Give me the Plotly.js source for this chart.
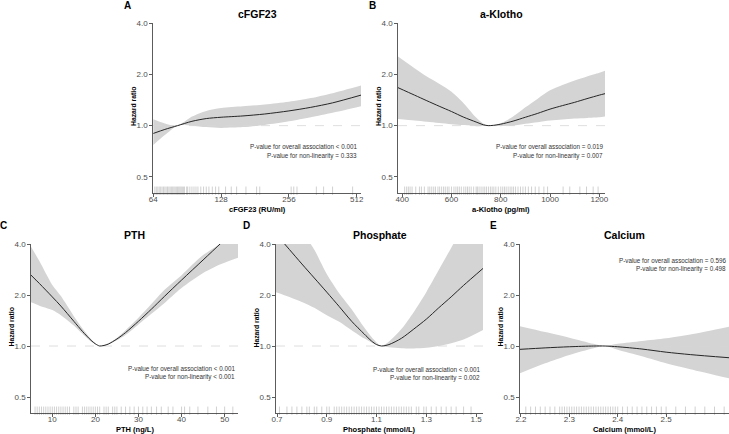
<!DOCTYPE html>
<html>
<head>
<meta charset="utf-8">
<script src="https://cdn.plot.ly/plotly-3.0.1.min.js"></script>
<style>
  body { margin: 0; background: #fff; }
  #chart { width: 729px; height: 434px; }
</style>
</head>
<body>
<div id="chart"></div>
<script>
// spline estimates: x, hazard ratio, 95% CI
const fgfX  = [64, 72, 82, 95, 110, 128, 160, 200, 256, 320, 400, 535];
const fgfHR = [0.90, 0.95, 1.00, 1.06, 1.10, 1.12, 1.14, 1.17, 1.22, 1.28, 1.36, 1.51];
const fgfLo = [0.77, 0.88, 1.00, 1.00, 0.98, 0.97, 0.98, 1.01, 1.06, 1.12, 1.19, 1.30];
const fgfHi = [1.09, 1.03, 1.00, 1.13, 1.22, 1.27, 1.30, 1.33, 1.38, 1.45, 1.55, 1.72];
const fgfRug = [65, 66, 67, 68, 69, 70, 71, 72, 73, 74, 75, 76, 77, 78, 79, 80, 81, 82, 83, 84,
  85, 86, 87, 88, 90, 91, 93, 95, 97, 99, 101, 104, 107, 110, 113, 117, 121, 125, 134, 142,
  150, 165, 184, 190, 262, 269, 278, 339, 365, 400, 491];

const klothoX  = [383, 450, 500, 550, 600, 650, 700, 730, 749, 770, 800, 850, 900, 950, 1000, 1050, 1100, 1150, 1200, 1223];
const klothoHR = [1.67, 1.51, 1.40, 1.30, 1.21, 1.12, 1.05, 1.011, 1.00, 1.004, 1.02, 1.063, 1.12, 1.18, 1.25, 1.31, 1.37, 1.44, 1.51, 1.54];
const klothoLo = [1.092, 1.07, 1.053, 1.036, 1.02, 1.007, 0.993, 0.996, 1.00, 0.997, 0.993, 1.00, 1.027, 1.048, 1.07, 1.085, 1.10, 1.11, 1.12, 1.13];
const klothoHi = [2.54, 2.17, 1.94, 1.76, 1.58, 1.35, 1.115, 1.027, 1.00, 1.007, 1.034, 1.13, 1.28, 1.44, 1.61, 1.73, 1.84, 1.94, 2.04, 2.10];
const klothoRug = [410, 418, 425, 432, 440, 455, 470, 478, 490, 505, 512, 520, 528, 535, 545, 552,
  560, 568, 575, 583, 590, 600, 610, 618, 625, 632, 640, 650, 658, 665, 672, 680, 690, 700, 705,
  712, 720, 728, 735, 742, 750, 758, 765, 772, 780, 790, 800, 808, 815, 822, 830, 838, 845, 852,
  860, 870, 880, 890, 900, 912, 925, 940, 955, 975, 990, 1053, 1080, 1121, 1148, 1175, 1195];

const pthX  = [5.06, 7, 10, 12, 15, 17, 19, 20, 21, 22, 23, 25, 27, 30, 33, 36, 40, 45, 49.2, 53.1];
const pthHR = [2.62, 2.34, 1.95, 1.72, 1.40, 1.22, 1.08, 1.03, 1.00, 1.008, 1.027, 1.10, 1.20, 1.40, 1.65, 1.96, 2.45, 3.22, 4.06, 5.04];
const pthLo = [1.81, 1.73, 1.63, 1.52, 1.32, 1.18, 1.063, 1.025, 1.00, 1.005, 1.02, 1.08, 1.16, 1.34, 1.55, 1.79, 2.20, 2.70, 3.05, 3.32];
const pthHi = [3.85, 3.17, 2.29, 1.97, 1.50, 1.27, 1.10, 1.037, 1.00, 1.011, 1.035, 1.12, 1.24, 1.47, 1.77, 2.14, 2.62, 3.44, 4.06, 5.25];
const pthRug = [6, 6.5, 7, 7.5, 8, 8.5, 9, 9.5, 10, 10.5, 11, 11.5, 12, 12.5, 13, 13.5, 14, 15, 15.5,
  16, 17, 17.5, 18, 18.5, 19, 19.5, 20, 20.5, 21, 22, 22.5, 23, 24, 24.5, 25, 26, 27, 28, 29, 30,
  31, 32, 33, 34.2, 35.3, 36.9, 38.0, 40.0, 40.7, 41.9, 43.8, 46.1, 48.1, 50.0, 51.9];

const phosX  = [0.696, 0.75, 0.8, 0.85, 0.9, 0.95, 1.0, 1.05, 1.08, 1.1, 1.12, 1.15, 1.2, 1.25, 1.3, 1.35, 1.4, 1.45, 1.528];
const phosHR = [4.58, 3.71, 3.05, 2.52, 2.08, 1.71, 1.40, 1.18, 1.07, 1.02, 1.00, 1.02, 1.11, 1.26, 1.44, 1.68, 1.95, 2.28, 2.87];
const phosLo = [2.08, 1.95, 1.82, 1.68, 1.52, 1.39, 1.24, 1.11, 1.05, 1.016, 1.00, 0.982, 0.969, 0.967, 0.976, 1.00, 1.039, 1.092, 1.243];
const phosHi = [8.4, 6.27, 4.77, 3.70, 2.66, 2.05, 1.65, 1.29, 1.13, 1.05, 1.00, 1.063, 1.26, 1.59, 2.08, 2.81, 3.79, 5.10, 7.90];
const phosRug = [0.71, 0.74, 0.76, 0.78, 0.8, 0.82, 0.83, 0.85, 0.86, 0.88, 0.9, 0.91, 0.93, 0.94,
  0.95, 0.96, 0.97, 0.98, 0.99, 1.0, 1.01, 1.02, 1.03, 1.04, 1.05, 1.06, 1.07, 1.08, 1.09, 1.1,
  1.11, 1.12, 1.13, 1.14, 1.15, 1.16, 1.17, 1.18, 1.19, 1.2, 1.21, 1.22, 1.23, 1.24, 1.26, 1.27,
  1.29, 1.3, 1.32, 1.34, 1.36, 1.38, 1.4, 1.42, 1.45, 1.48];

const caX  = [2.198, 2.25, 2.3, 2.35, 2.374, 2.4, 2.45, 2.5, 2.55, 2.63];
const caHR = [0.956, 0.975, 0.99, 1.00, 1.00, 0.99, 0.96, 0.92, 0.89, 0.853];
const caLo = [0.69, 0.79, 0.885, 0.97, 1.00, 0.95, 0.87, 0.79, 0.73, 0.645];
const caHi = [1.31, 1.21, 1.12, 1.03, 1.00, 1.03, 1.07, 1.11, 1.17, 1.30];
const caRug = [2.21, 2.22, 2.23, 2.24, 2.25, 2.26, 2.27, 2.28, 2.285, 2.29, 2.295, 2.3, 2.305, 2.31,
  2.315, 2.32, 2.325, 2.33, 2.335, 2.34, 2.345, 2.35, 2.355, 2.36, 2.365, 2.37, 2.375, 2.38, 2.385,
  2.39, 2.395, 2.4, 2.41, 2.42, 2.43, 2.44, 2.45, 2.46, 2.47, 2.48, 2.49, 2.5, 2.52, 2.54, 2.56,
  2.58, 2.6, 2.62];

const yTicks = [0.5, 1, 2, 4];
const yTickText = ['0.5', '1.0', '2.0', '4.0'];

const W = 729, H = 434;
const FONT = 'Liberation Sans, Arial, sans-serif';
const px = v => v / W;
const py = v => 1 - v / H;

const panels = [
  { letter: 'A', lbl: [127, 5], title: 'cFGF23', xtitle: 'cFGF23 (RU/ml)', x: fgfX, hr: fgfHR, lo: fgfLo, hi: fgfHi, rug: fgfRug,
    box: [153, 361, 23, 193], xtype: 'log', xrange: [63.8, 535], tickvals: [64, 128, 256, 512], ticktext: ['64', '128', '256', '512'],
    p1: 'P-value for overall association < 0.001', p2: 'P-value for non-linearity = 0.333', pxr: 359, py1: 147 },
  { letter: 'B', lbl: [372, 5], title: 'a-Klotho', xtitle: 'a-Klotho (pg/ml)', x: klothoX, hr: klothoHR, lo: klothoLo, hi: klothoHi, rug: klothoRug,
    box: [398, 605, 23, 193], xtype: 'linear', xrange: [383, 1223], tickvals: [400, 600, 800, 1000, 1200], ticktext: ['400', '600', '800', '1000', '1200'],
    p1: 'P-value for overall association = 0.019', p2: 'P-value for non-linearity = 0.007', pxr: 605, py1: 147 },
  { letter: 'C', lbl: [4, 225], title: 'PTH', xtitle: 'PTH (ng/L)', x: pthX, hr: pthHR, lo: pthLo, hi: pthHi, rug: pthRug,
    box: [31, 238, 244, 413], xtype: 'linear', xrange: [5.06, 53.1], tickvals: [10, 20, 30, 40, 50], ticktext: ['10', '20', '30', '40', '50'],
    p1: 'P-value for overall association < 0.001', p2: 'P-value for non-linearity < 0.001', pxr: 237, py1: 368 },
  { letter: 'D', lbl: [247, 225], title: 'Phosphate', xtitle: 'Phosphate (mmol/L)', x: phosX, hr: phosHR, lo: phosLo, hi: phosHi, rug: phosRug,
    box: [276, 483, 244, 413], xtype: 'linear', xrange: [0.696, 1.528], tickvals: [0.7, 0.9, 1.1, 1.3, 1.5], ticktext: ['0.7', '0.9', '1.1', '1.3', '1.5'],
    p1: 'P-value for overall association < 0.001', p2: 'P-value for non-linearity = 0.002', pxr: 482, py1: 369 },
  { letter: 'E', lbl: [494, 225], title: 'Calcium', xtitle: 'Calcium (mmol/L)', x: caX, hr: caHR, lo: caLo, hi: caHi, rug: caRug,
    box: [520, 729, 244, 413], xtype: 'linear', xrange: [2.198, 2.63], tickvals: [2.2, 2.3, 2.4, 2.5], ticktext: ['2.2', '2.3', '2.4', '2.5'],
    p1: 'P-value for overall association = 0.596', p2: 'P-value for non-linearity = 0.498', pxr: 728, py1: 260 }
];

const traces = [];
const annotations = [];
const layout = {
  width: W, height: H,
  margin: { l: 0, r: 0, t: 0, b: 0 },
  paper_bgcolor: '#fff', plot_bgcolor: '#fff',
  showlegend: false,
  font: { family: FONT, size: 8, color: '#4d4d4d' },
  annotations: annotations
};

const axisStyle = {
  showgrid: false, zeroline: false, showline: true, linecolor: '#333', linewidth: 0.8,
  ticks: 'outside', ticklen: 3, tickwidth: 0.8, tickcolor: '#333',
  tickfont: { family: FONT, size: 8, color: '#4d4d4d' }
};

panels.forEach(function (p, i) {
  const n = i === 0 ? '' : String(i + 1);
  const xa = 'x' + n, ya = 'y' + n;
  const [x0, x1, y0, y1] = p.box;

  layout['xaxis' + n] = Object.assign({
    domain: [px(x0), px(x1)], anchor: ya, type: p.xtype,
    range: p.xtype === 'log' ? p.xrange.map(Math.log10) : p.xrange,
    tickvals: p.tickvals, ticktext: p.ticktext, ticklabelstandoff: -4
  }, axisStyle);
  layout['yaxis' + n] = Object.assign({
    domain: [py(y1), py(y0)], anchor: xa, type: 'log',
    range: [Math.log10(0.4025), Math.log10(4.0)],
    tickvals: yTicks, ticktext: yTickText
  }, axisStyle);

  // confidence band
  traces.push({ x: p.x, y: p.lo, xaxis: xa, yaxis: ya, mode: 'lines', line: { width: 0, shape: 'spline', smoothing: 0.8 }, hoverinfo: 'skip' });
  traces.push({ x: p.x, y: p.hi, xaxis: xa, yaxis: ya, mode: 'lines', line: { width: 0, shape: 'spline', smoothing: 0.8 },
    fill: 'tonexty', fillcolor: 'rgb(212,212,212)', hoverinfo: 'skip' });
  // reference line at HR = 1
  traces.push({ x: p.xrange, y: [1, 1], xaxis: xa, yaxis: ya, mode: 'lines',
    line: { color: 'rgb(215,215,215)', width: 0.8, dash: 'dash' }, hoverinfo: 'skip' });
  // estimate
  traces.push({ x: p.x, y: p.hr, xaxis: xa, yaxis: ya, mode: 'lines', line: { color: '#262626', width: 1, shape: 'spline', smoothing: 0.8 } });
  // rug
  traces.push({ x: p.rug, y: p.rug.map(() => 0.415), xaxis: xa, yaxis: ya, mode: 'markers', cliponaxis: false,
    marker: { symbol: 'line-ns-open', size: 6, color: 'rgba(60,60,60,0.4)', line: { width: 0.6, color: 'rgba(60,60,60,0.4)' } },
    hoverinfo: 'skip' });

  annotations.push({ text: '<b>' + p.letter + '</b>', xref: 'paper', yref: 'paper', x: px(p.lbl[0]), y: py(p.lbl[1]),
    showarrow: false, xanchor: 'center', yanchor: 'middle', font: { family: FONT, size: 10, color: '#000' } });
  const cx = (x0 + x1) / 2 + (p.letter === 'E' ? -0.5 : 0);
  annotations.push({ text: '<b>' + p.title + '</b>', xref: 'paper', yref: 'paper', x: px(cx), y: py(y0 - 9),
    showarrow: false, xanchor: 'center', yanchor: 'middle', font: { family: FONT, size: 10.5, color: '#000' } });
  annotations.push({ text: '<b>' + p.xtitle + '</b>', xref: 'paper', yref: 'paper', x: px(cx), y: py(y1 + 16.5),
    showarrow: false, xanchor: 'center', yanchor: 'middle', font: { family: FONT, size: 7.5, color: '#000' } });
  annotations.push({ text: '<b>Hazard ratio</b>', xref: 'paper', yref: 'paper', x: px(x0 - 20), y: py((y0 + y1) / 2 - 1),
    showarrow: false, textangle: -90, xanchor: 'center', yanchor: 'middle', font: { family: FONT, size: 6.8, color: '#000' } });
  annotations.push({ text: p.p1, xref: 'paper', yref: 'paper', x: px(p.pxr), y: py(p.py1),
    showarrow: false, xanchor: 'right', yanchor: 'middle', font: { family: FONT, size: 6.3, color: '#333' } });
  annotations.push({ text: p.p2, xref: 'paper', yref: 'paper', x: px(p.pxr), y: py(p.py1 + 9.3),
    showarrow: false, xanchor: 'right', yanchor: 'middle', font: { family: FONT, size: 6.3, color: '#333' } });
});

Plotly.newPlot('chart', traces, layout, { staticPlot: true });
</script>
</body>
</html>
